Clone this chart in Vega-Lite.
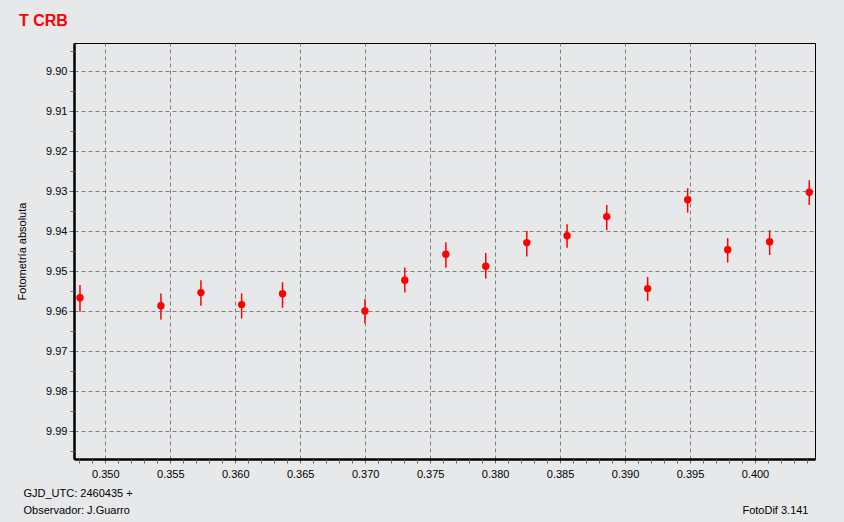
{
  "$schema": "https://vega.github.io/schema/vega-lite/v6.json",
  "width": 741,
  "height": 416,
  "autosize": "none",
  "padding": {"left": 74, "top": 43, "right": 29, "bottom": 63},
  "background": "#e7e8ea",
  "config": {
    "view": {"fill": "#e7e8ea", "stroke": "#000000", "strokeWidth": 1},
    "font": "Liberation Sans"
  },
  "title": {
    "text": "T CRB",
    "anchor": "start",
    "frame": "group",
    "dx": -55,
    "dy": 17,
    "offset": 18,
    "baseline": "alphabetic",
    "fontSize": 16,
    "fontWeight": "bold",
    "color": "#ff0000",
    "font": "Liberation Sans"
  },
  "data": {
    "values": [
      {"jd": 0.34805, "mag": 9.9567, "lo": 9.9535, "hi": 9.9602},
      {"jd": 0.35428, "mag": 9.9587, "lo": 9.9556, "hi": 9.9621},
      {"jd": 0.35736, "mag": 9.9554, "lo": 9.9523, "hi": 9.9587},
      {"jd": 0.36049, "mag": 9.9584, "lo": 9.9556, "hi": 9.9619},
      {"jd": 0.36364, "mag": 9.9557, "lo": 9.9528, "hi": 9.9592},
      {"jd": 0.36998, "mag": 9.9600, "lo": 9.9570, "hi": 9.9631},
      {"jd": 0.37305, "mag": 9.9523, "lo": 9.9491, "hi": 9.9554},
      {"jd": 0.37621, "mag": 9.9458, "lo": 9.9428, "hi": 9.9492},
      {"jd": 0.37928, "mag": 9.9488, "lo": 9.9455, "hi": 9.9519},
      {"jd": 0.38244, "mag": 9.9429, "lo": 9.9400, "hi": 9.9464},
      {"jd": 0.38554, "mag": 9.9412, "lo": 9.9383, "hi": 9.9442},
      {"jd": 0.38859, "mag": 9.9364, "lo": 9.9335, "hi": 9.9398},
      {"jd": 0.39174, "mag": 9.9544, "lo": 9.9515, "hi": 9.9575},
      {"jd": 0.39482, "mag": 9.9322, "lo": 9.9293, "hi": 9.9354},
      {"jd": 0.39790, "mag": 9.9447, "lo": 9.9418, "hi": 9.9479},
      {"jd": 0.40113, "mag": 9.9427, "lo": 9.9398, "hi": 9.9460},
      {"jd": 0.40418, "mag": 9.9303, "lo": 9.9273, "hi": 9.9335}
    ]
  },
  "layer": [
    {
      "mark": {"type": "rule", "color": "#ff0000", "strokeWidth": 1.5},
      "encoding": {
        "x": {
          "field": "jd",
          "type": "quantitative",
          "scale": {"domain": [0.34759, 0.40462], "nice": false, "zero": false},
          "axis": {
            "orient": "bottom",
            "values": [0.35, 0.355, 0.36, 0.365, 0.37, 0.375, 0.38, 0.385, 0.39, 0.395, 0.4],
            "format": ".3f",
            "labelFontSize": 11,
            "labelColor": "#000000",
            "labelPadding": 5,
            "tickSize": 4,
            "tickColor": "#666666",
            "domain": true,
            "domainColor": "#000000",
            "domainWidth": 2.5,
            "grid": true,
            "gridColor": "#808080",
            "gridDash": [4, 3],
            "gridWidth": 1,
            "gridOpacity": 1,
            "title": ["GJD_UTC: 2460435 +", "Observador: J.Guarro"],
            "titleX": -51,
            "titleY": 37,
            "titleAlign": "left",
            "titleAnchor": null,
            "titleBaseline": "alphabetic",
            "titleLineHeight": 17,
            "titleFontSize": 11,
            "titleFontWeight": "normal",
            "titleColor": "#000000"
          }
        },
        "y": {
          "field": "lo",
          "type": "quantitative",
          "scale": {"domain": [9.893, 9.997], "reverse": true, "nice": false, "zero": false},
          "axis": {
            "orient": "left",
            "values": [9.9, 9.91, 9.92, 9.93, 9.94, 9.95, 9.96, 9.97, 9.98, 9.99],
            "format": ".2f",
            "labelFontSize": 11,
            "labelColor": "#000000",
            "labelPadding": 2,
            "tickSize": 5,
            "tickColor": "#666666",
            "domain": true,
            "domainColor": "#000000",
            "domainWidth": 2.5,
            "grid": true,
            "gridColor": "#808080",
            "gridDash": [4, 3],
            "gridWidth": 1,
            "gridOpacity": 1,
            "title": "Fotometría absoluta",
            "titleX": -52,
            "titleBaseline": "middle",
            "titleFontSize": 11,
            "titleFontWeight": "normal",
            "titleColor": "#000000"
          }
        },
        "y2": {"field": "hi"}
      }
    },
    {
      "mark": {"type": "point", "shape": "circle", "filled": true, "color": "#ff0000", "size": 55, "opacity": 1},
      "encoding": {
        "x": {
          "field": "jd",
          "type": "quantitative",
          "axis": {
            "orient": "bottom",
            "values": [0.348, 0.349, 0.351, 0.352, 0.353, 0.354, 0.356, 0.357, 0.358, 0.359, 0.361, 0.362, 0.363, 0.364, 0.366, 0.367, 0.368, 0.369, 0.371, 0.372, 0.373, 0.374, 0.376, 0.377, 0.378, 0.379, 0.381, 0.382, 0.383, 0.384, 0.386, 0.387, 0.388, 0.389, 0.391, 0.392, 0.393, 0.394, 0.396, 0.397, 0.398, 0.399, 0.401, 0.402, 0.403, 0.404],
            "labels": false,
            "grid": false,
            "domain": false,
            "tickSize": 4,
            "tickColor": "#666666",
            "title": "FotoDif 3.141",
            "titleX": 734,
            "titleY": 54,
            "titleAlign": "right",
            "titleAnchor": null,
            "titleBaseline": "alphabetic",
            "titleFontSize": 11,
            "titleFontWeight": "normal",
            "titleColor": "#000000"
          }
        },
        "y": {
          "field": "mag",
          "type": "quantitative",
          "axis": {
            "orient": "left",
            "values": [9.895, 9.905, 9.915, 9.925, 9.935, 9.945, 9.955, 9.965, 9.975, 9.985, 9.995],
            "labels": false,
            "grid": false,
            "domain": false,
            "tickSize": 4,
            "tickColor": "#666666",
            "title": null
          }
        }
      }
    }
  ],
  "resolve": {"axis": {"x": "independent", "y": "independent"}}
}
